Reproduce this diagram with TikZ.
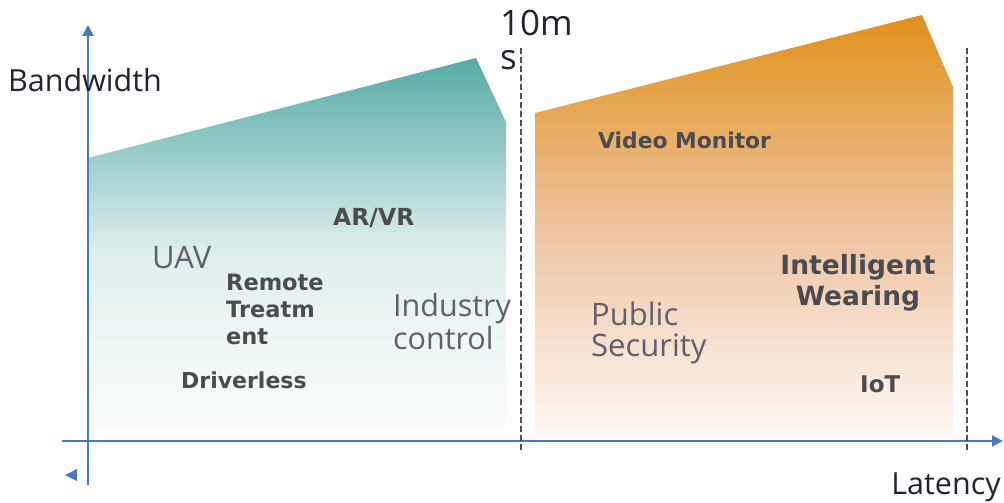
\documentclass[tikz,border=0pt]{standalone}
\usepackage{fontspec}
\usetikzlibrary{arrows.meta}
\setmainfont{Open Sans}
\newfontfamily\bfont{DejaVu Sans}
\definecolor{axisblue}{RGB}{72,122,192}
\definecolor{dashgray}{RGB}{80,80,80}
\definecolor{tealtop}{RGB}{85,170,165}
\definecolor{tealmid}{RGB}{222,238,237}
\definecolor{orangetop}{RGB}{225,145,25}
\definecolor{orangemid}{RGB}{238,195,160}
\definecolor{orangebot}{RGB}{253,249,246}
\definecolor{axtext}{RGB}{35,35,50}
\definecolor{reglabel}{RGB}{95,95,110}
\definecolor{boldlabel}{RGB}{75,75,80}
\tikzset{
  axisline/.style={draw=axisblue, line width=2pt},
  divider/.style={draw=dashgray, line width=2pt, dash pattern=on 6pt off 3pt},
  axlabel/.style={inner sep=0pt, text=axtext, font=\fontsize{30.5}{33}\selectfont},
  reg/.style={inner sep=0pt, anchor=west, align=left, text=reglabel},
  bld/.style={inner sep=0pt, anchor=west, align=left, text=boldlabel},
}
\begin{document}
\begin{tikzpicture}[x={(1pt,0)}, y={(0,-1pt)}]
\useasboundingbox (0,0) rectangle (1004,503);
% shaded regions
\shade[top color=tealtop, bottom color=white, middle color=tealmid]
  (88,158) -- (476,58) -- (506,122) -- (506,441) -- (88,441) -- cycle;
\shade[top color=orangetop, bottom color=orangebot, middle color=orangemid]
  (535,113) -- (922,15) -- (953,87) -- (953,438) -- (535,438) -- cycle;
% axes
\coordinate (ybot) at (88,485);
\coordinate (ytop) at (88,25);
\coordinate (xleft) at (62,441);
\coordinate (xright) at (1003,441);
\draw[axisline, -{Triangle[length=11pt,width=11pt]}] (ybot) -- (ytop);
\draw[axisline, -{Triangle[length=11pt,width=11pt]}] (xleft) -- (xright);
\coordinate (stray) at (65,475);
\fill[axisblue] (stray) -- ++(12,-6) -- ++(0,12) -- cycle;
% dividers
\coordinate (d1t) at (521,48);
\coordinate (d1b) at (521,450);
\coordinate (d2t) at (967,48);
\coordinate (d2b) at (967,450);
\draw[divider] (d1t) -- (d1b);
\draw[divider] (d2t) -- (d2b);
% axis labels
\node[axlabel] (bw) at (85,80) {Bandwidth};
\node[axlabel] (lat) at (946,487) {Latency};
\node[axlabel, anchor=west, font=\fontsize{35}{38}\selectfont] (tenm) at (500,23) {10m};
\node[axlabel, anchor=west, font=\fontsize{35}{38}\selectfont] (tens) at (500,60) {s};
% regular labels
\node[reg, font=\fontsize{31}{33}\selectfont] (uav) at (152,258) {UAV};
\node[reg, font=\fontsize{30.5}{33}\selectfont] (ind) at (393,322) {Industry\\control};
\node[reg, font=\fontsize{31}{31}\selectfont] (pub) at (591,333) {Public\\Security};
% bold labels
\node[bld, font=\bfont\bfseries\fontsize{22.5}{27}\selectfont] (rem) at (226,309) {Remote\\Treatm\\ent};
\node[bld, font=\bfont\bfseries\fontsize{23.5}{27}\selectfont] (arvr) at (333,218) {AR/VR};
\node[bld, font=\bfont\bfseries\fontsize{22}{27}\selectfont] (drv) at (181,380) {Driverless};
\node[bld, font=\bfont\bfseries\fontsize{21.8}{27}\selectfont] (vid) at (598,140) {Video Monitor};
\node[inner sep=0pt, align=center, text=boldlabel, font=\bfont\bfseries\fontsize{26.5}{31}\selectfont] (iw) at (858,283) {Intelligent\\Wearing};
\node[bld, font=\bfont\bfseries\fontsize{23}{27}\selectfont] (iot) at (860,384) {IoT};
\end{tikzpicture}
\end{document}
